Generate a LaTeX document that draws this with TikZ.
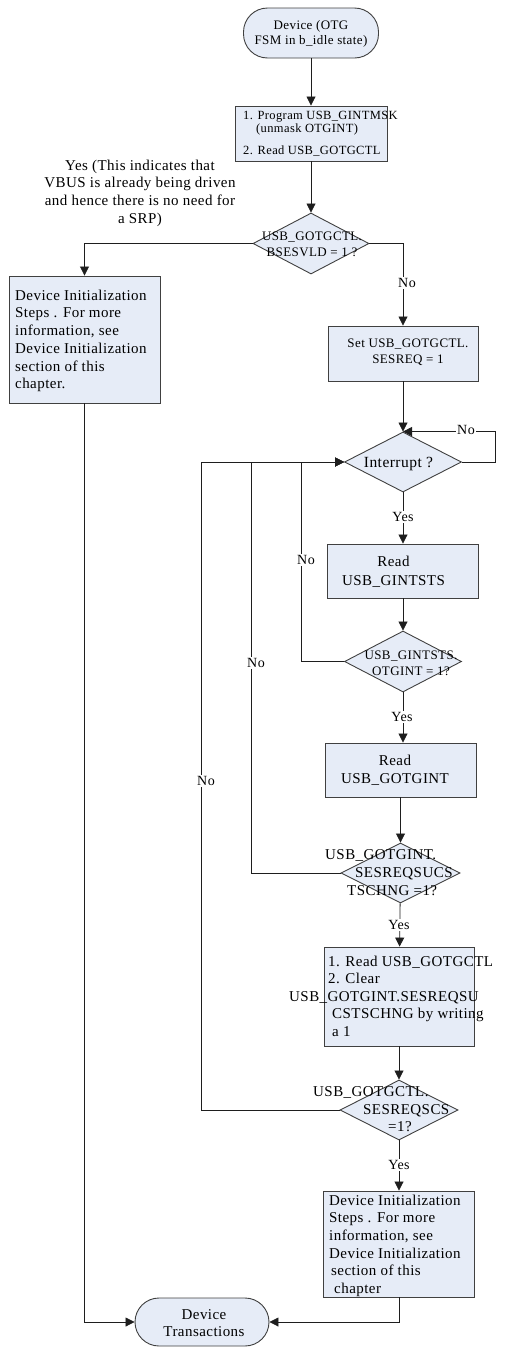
\documentclass[tikz,border=0pt]{standalone}
\usepackage{fontspec}
\setmainfont{Liberation Serif}[LetterSpace=3]
\usetikzlibrary{shapes.geometric,arrows.meta,calc}
\definecolor{boxfill}{RGB}{230,236,247}
\definecolor{boxline}{RGB}{64,64,64}
\definecolor{conn}{RGB}{30,30,30}
\begin{document}
\begin{tikzpicture}[x=1pt,y=-1pt,
  box/.style={draw=boxline,fill=boxfill,line width=0.9pt,inner sep=0pt,rectangle},
  term/.style={box,rounded corners=24pt},
  dec/.style={draw=boxline,fill=boxfill,line width=0.9pt,inner sep=0pt,diamond},
  txt/.style={inner sep=0pt,font=\fontsize{15}{17.7}\selectfont},
  stxt/.style={inner sep=0pt,font=\fontsize{13}{15}\selectfont},
  lab/.style={fill=white,inner sep=1pt,font=\fontsize{14}{16}\selectfont},
  arr/.style={draw=conn,line width=0.8pt,-{Triangle[length=9pt,width=9pt]}},
  ln/.style={draw=conn,line width=0.8pt}]
\useasboundingbox (0,0) rectangle (504,1347);

% shapes
\node[term,minimum width=135pt,minimum height=50pt] (start) at (311,33) {};
\node[box,minimum width=152pt,minimum height=55pt] (b1) at (311,133.5) {};
\node[dec,minimum width=116pt,minimum height=61pt] (d1) at (311,243.5) {};
\node[box,minimum width=151pt,minimum height=127pt] (bL) at (84.5,339.5) {};
\node[box,minimum width=150pt,minimum height=55pt] (b2) at (403,353.5) {};
\node[dec,minimum width=117pt,minimum height=60pt] (d2) at (403,462) {};
\node[box,minimum width=151pt,minimum height=54pt] (b3) at (403,571) {};
\node[dec,minimum width=117pt,minimum height=61pt] (d3) at (403,661.5) {};
\node[box,minimum width=151pt,minimum height=54pt] (b4) at (400.5,770) {};
\node[dec,minimum width=119pt,minimum height=60pt] (d4) at (400.5,873) {};
\node[box,minimum width=150pt,minimum height=99pt] (b5) at (399,996.5) {};
\node[dec,minimum width=118pt,minimum height=60pt] (d5) at (399,1110) {};
\node[box,minimum width=151pt,minimum height=106pt] (b6) at (399,1244) {};
\node[term,minimum width=134pt,minimum height=48pt] (end) at (202,1322) {};

% texts
\node[stxt,align=center] (tstart) at (311,33.5) {Device (OTG\\FSM in b\_idle state)};
\node[inner sep=0pt,font=\fontsize{12.5}{13}\selectfont,align=left,anchor=north west] (tb1) at (243,111.4)
  {1. Program USB\_GINTMSK\\\hspace*{13pt}(unmask OTGINT)\\[9pt]2. Read USB\_GOTGCTL};
\node[inner sep=0pt,font=\fontsize{13}{16}\selectfont,align=center,anchor=north] (td1) at (312,232)
  {USB\_GOTGCTL.\\BSESVLD = 1 ?};
\node[txt,align=center,anchor=north] (tyes1) at (140,159.6)
  {Yes (This indicates that\\VBUS is already being driven\\and hence there is no need for\\a SRP)};
\node[txt,align=left,anchor=north west] (tbL) at (15,289.6)
  {Device Initialization\\Steps . For more\\information, see\\Device Initialization\\section of this\\chapter.};
\node[inner sep=0pt,font=\fontsize{13}{16}\selectfont,align=center,anchor=north] (tb2) at (408,339)
  {Set USB\_GOTGCTL.\\SESREQ = 1};
\node[inner sep=0pt,font=\fontsize{15.5}{18}\selectfont,anchor=base] (td2) at (398.5,467) {Interrupt ?};
\node[inner sep=0pt,font=\fontsize{15}{19}\selectfont,align=center,anchor=north] (tb3) at (393.5,555.6)
  {Read\\USB\_GINTSTS};
\node[inner sep=0pt,font=\fontsize{13}{16}\selectfont,align=center,anchor=north] (td3) at (411,651)
  {USB\_GINTSTS.\\OTGINT = 1?};
\node[inner sep=0pt,font=\fontsize{15}{18}\selectfont,align=center,anchor=north] (tb4) at (395,754.6)
  {Read\\USB\_GOTGINT};
\node[inner sep=0pt,font=\fontsize{15}{18}\selectfont,align=left,anchor=north west] (td4) at (325,849.6)
  {USB\_GOTGINT.\\\hspace*{30pt}SESREQSUCS\\\hspace*{22pt}TSCHNG =1?};
\node[inner sep=0pt,font=\fontsize{15}{17.5}\selectfont,align=left,anchor=north west] (tb5) at (328,955.6)
  {1. Read USB\_GOTGCTL\\2. Clear\\\hspace*{-39pt}USB\_GOTGINT.SESREQSU\\\hspace*{4pt}CSTSCHNG by writing\\\hspace*{4pt}a 1};
\node[inner sep=0pt,font=\fontsize{15}{17.5}\selectfont,align=left,anchor=north west] (td5) at (313,1086.6)
  {USB\_GOTGCTL.\\\hspace*{50pt}SESREQSCS\\\hspace*{75pt}=1?};
\node[inner sep=0pt,font=\fontsize{15}{17.6}\selectfont,align=left,anchor=north west] (tb6) at (329,1194.6)
  {Device Initialization\\Steps . For more\\information, see\\Device Initialization\\\hspace*{2pt}section of this\\\hspace*{5pt}chapter};
\node[inner sep=0pt,font=\fontsize{15}{17}\selectfont,align=center,anchor=north] (tend) at (204,1309.6)
  {Device\\Transactions};

% connectors
\draw[arr] (start) -- (b1);
\draw[arr] (b1) -- (d1);
\draw[arr] (d1.west) -| (bL.north);
\draw[arr] (d1.east) -| (b2.north);
\draw[arr] (b2) -- (d2);
\draw[arr] (d2.east) -- ++(33,0) |- (d2.north);
\draw[arr] (d2) -- (b3);
\draw[arr] (b3) -- (d3);
\draw[arr] (d3.west) -- ++(-43,0) |- (d2.west);
\draw[arr] (d3.south) -- (d3.south |- b4.north);
\draw[arr] (b4) -- (d4);
\draw[arr] (d4.west) -- ++(-89,0) |- (d2.west);
\draw[arr] (d4) -- (b5);
\draw[arr] (b5) -- (d5);
\draw[arr] (d5.west) -- ++(-138,0) |- (d2.west);
\draw[arr] (d5) -- (b6);
\draw[arr] (b6.south) |- (end.east);
\draw[arr] (bL.south) |- (end.west);

% labels
\node[lab] (lno1) at (407,283) {No};
\node[lab] (lno2) at (466,430) {No};
\node[lab] (lyes2) at (403,517) {Yes};
\node[lab] (lno3) at (306,560) {No};
\node[lab] (lyes3) at (402,717) {Yes};
\node[lab] (lno4) at (256,663) {No};
\node[lab] (lyes4) at (399,925) {Yes};
\node[lab] (lno5) at (206,781) {No};
\node[lab] (lyes5) at (399,1165) {Yes};
\end{tikzpicture}
\end{document}
